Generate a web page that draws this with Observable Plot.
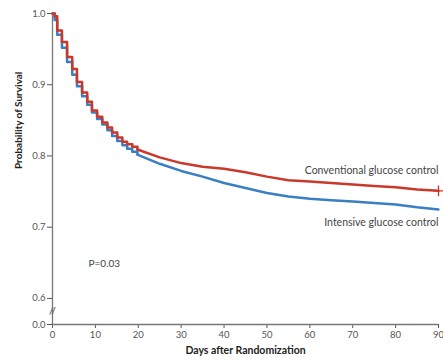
<!DOCTYPE html>
<html><head><meta charset="utf-8">
<script src="https://cdn.jsdelivr.net/npm/d3@7"></script>
<script src="https://cdn.jsdelivr.net/npm/@observablehq/plot@0.6"></script>
<style>body{margin:0;background:#fff}</style>
</head><body><div id="chart"></div>
<script>
// Early part (step curve), days after randomization
const earlyDays = [0, 0.5, 1.1, 2.2, 3.4, 4.6, 5.7, 6.9, 8.1, 9.2, 10.4, 11.6, 12.8, 13.9, 15.1, 16.3, 17.4, 18.6, 19.8];
const conventionalEarly = [1.0, 0.996, 0.976, 0.960, 0.939, 0.922, 0.904, 0.889, 0.876, 0.864, 0.855, 0.847, 0.840, 0.833, 0.826, 0.820, 0.8165, 0.813, 0.809];
const intensiveEarly   = [1.0, 0.991, 0.970, 0.952, 0.932, 0.914, 0.898, 0.884, 0.872, 0.861, 0.852, 0.844, 0.836, 0.828, 0.821, 0.815, 0.810, 0.806, 0.802];
// Later part
const lateDays = [19.8, 25, 30, 35, 40, 45, 50, 55, 60, 65, 70, 75, 80, 85, 90];
const conventionalLate = [0.809, 0.798, 0.790, 0.785, 0.782, 0.777, 0.771, 0.766, 0.764, 0.762, 0.760, 0.758, 0.756, 0.753, 0.751];
const intensiveLate    = [0.802, 0.789, 0.779, 0.771, 0.762, 0.755, 0.748, 0.743, 0.740, 0.738, 0.736, 0.734, 0.732, 0.728, 0.725];

const seriesNames = ["Conventional glucose control", "Intensive glucose control"];
const xTicks = [0, 10, 20, 30, 40, 50, 60, 70, 80, 90];
const yTicks = [0.6, 0.7, 0.8, 0.9, 1.0];
const yBreak = 0.5634; // where the "0.0" tick sits below the axis break
const pText = ["P=0.03"];
const xLabel = ["Days after Randomization"];
const yLabel = ["Probability of Survival"];

const RED = "#c9392b", BLUE = "#3a7fc4";
const mk = (days, vals, s) => days.map((d, i) => ({day: d, p: vals[i], s}));
const convE = mk(earlyDays, conventionalEarly, seriesNames[0]);
const intE = mk(earlyDays, intensiveEarly, seriesNames[1]);
const convL = mk(lateDays, conventionalLate, seriesNames[0]);
const intL = mk(lateDays, intensiveLate, seriesNames[1]);

const chart = Plot.plot({
  width: 443, height: 361,
  marginLeft: 52, marginRight: 5, marginTop: 13, marginBottom: 37,
  style: {fontFamily: "Lato, 'Open Sans', sans-serif", fontSize: "9.5px", color: "#555", background: "#fff"},
  x: {domain: [0, 90], ticks: xTicks, tickSize: 4, tickPadding: 3, label: null, tickFormat: d => String(d)},
  y: {domain: [yBreak, 1.0], ticks: [yBreak, ...yTicks], tickSize: 5, tickPadding: 2, label: null,
      tickFormat: d => d === yBreak ? "0.0" : d.toFixed(1)},
  marks: [
    Plot.ruleX([0], {y1: yBreak, y2: 1.0, stroke: "#777", strokeWidth: 1.3}),
    Plot.ruleY([yBreak], {x1: 0, x2: 90, stroke: "#777", strokeWidth: 1.3}),
    Plot.text(["//"], {x: 0, y: 0.582, text: d => d, fill: "#666", fontSize: 10, fontWeight: "bold"}),
    Plot.line(intE, {x: "day", y: "p", stroke: BLUE, strokeWidth: 2.5, curve: "step-after"}),
    Plot.line(intL, {x: "day", y: "p", stroke: BLUE, strokeWidth: 2.5}),
    Plot.line(convE, {x: "day", y: "p", stroke: RED, strokeWidth: 2.5, curve: "step-after"}),
    Plot.line(convL, {x: "day", y: "p", stroke: RED, strokeWidth: 2.5}),
    Plot.dot([convL[convL.length - 1]], {x: "day", y: "p", symbol: "plus", r: 3.5, stroke: RED, strokeWidth: 1.3}),
    Plot.text([seriesNames[0]], {x: 90, y: 0.779, text: d => d, textAnchor: "end", fill: "#444", fontSize: 10.5}),
    Plot.text([seriesNames[1]], {x: 90, y: 0.706, text: d => d, textAnchor: "end", fill: "#444", fontSize: 10.5}),
    Plot.text(pText, {x: 8.4, y: 0.648, text: d => d, textAnchor: "start", fill: "#444", fontSize: 10}),
    Plot.text(xLabel, {frameAnchor: "bottom", dy: 29, text: d => d, fill: "#222", fontWeight: "bold", fontSize: 10.5}),
    Plot.text(yLabel, {frameAnchor: "left", dx: -34, rotate: -90, text: d => d, fill: "#222", fontWeight: "bold", fontSize: 10})
  ]
});
document.getElementById("chart").appendChild(chart);
</script>
</body></html>
